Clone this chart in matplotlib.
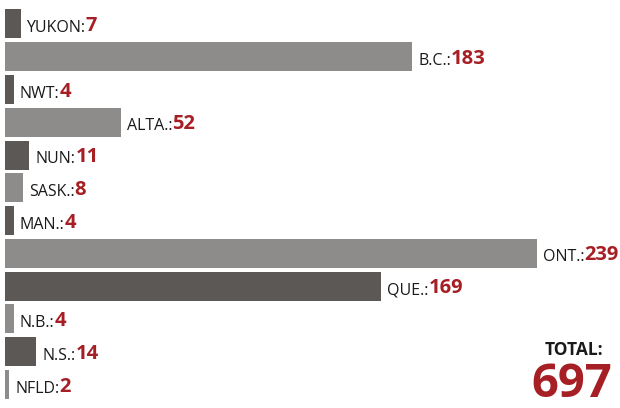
import matplotlib
matplotlib.use("Agg")
import matplotlib.pyplot as plt

# provinces, top to bottom, as drawn
provinces = ["YUKON", "B.C.", "NWT", "ALTA.", "NUN", "SASK.", "MAN.",
             "ONT.", "QUE.", "N.B.", "N.S.", "NFLD"]
counts = [7, 183, 4, 52, 11, 8, 4, 239, 169, 4, 14, 2]
total = 697

DARK = "#5b5855"
LIGHT = "#8e8b8b"
RED = "#a51f24"
INK = "#1a1a1a"
FONT = "Open Sans"

fig = plt.figure(figsize=(6.2, 4.08), dpi=100)
ax = fig.add_axes([0, 0, 1, 1])

y = list(range(len(provinces)))
colors = [DARK if i % 2 == 0 else LIGHT for i in y]
ax.barh(y, counts, height=0.885, color=colors, align="center")

for i, (name, n) in enumerate(zip(provinces, counts)):
    lab = ax.annotate(name + ":", xy=(n, i), xytext=(4.3, -5.8),
                      textcoords="offset points", ha="left", va="baseline",
                      fontsize=11.5, color=INK, family=FONT)
    ax.annotate(str(n), xy=(1, 0), xycoords=lab, ha="left", va="bottom",
                fontsize=14.5, fontweight="bold", color=RED, family=FONT)

ax.text(0.925, 0.13, "TOTAL:", transform=ax.transAxes, ha="center",
        va="baseline", fontsize=12.5, fontweight="bold", color=INK, family=FONT)
ax.text(0.922, 0.027, str(total), transform=ax.transAxes, ha="center",
        va="baseline", fontsize=34, fontweight="bold", color=RED, family=FONT)

ax.set_xlim(-2.25, 276.3)
ax.set_ylim(11.718, -0.732)
ax.axis("off")

fig.savefig("out.png", dpi=100)
